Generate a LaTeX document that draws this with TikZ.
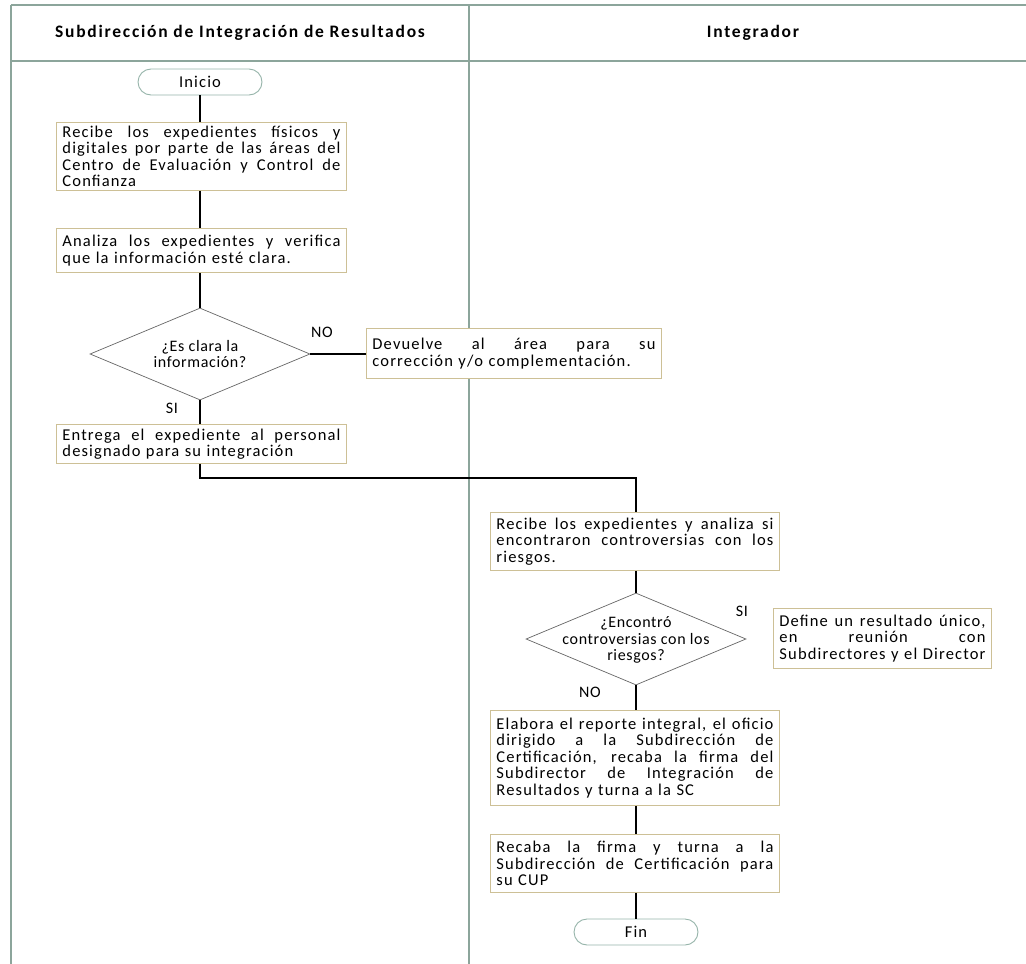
\documentclass[tikz,border=0pt]{standalone}
\usepackage{fontspec}
\setmainfont{Carlito}
\newfontfamily\hfont[LetterSpace=10]{Carlito}
\newfontfamily\bfont[LetterSpace=7]{Carlito}
\newfontfamily\dfont[LetterSpace=4]{Carlito}
\usetikzlibrary{shapes.geometric}
\definecolor{lanec}{RGB}{140,165,155}
\definecolor{boxc}{RGB}{205,192,150}
\definecolor{termc}{RGB}{150,180,170}
\newcommand\jl[1]{{\spaceskip=.25em plus 1fil\xspaceskip=.25em plus 1fil\makebox[\hsize][s]{#1}}}
\tikzset{
  procbox/.style={draw=boxc, line width=0.9pt, fill=white, anchor=north west,
    text width=#1, inner xsep=6pt, inner ysep=1pt, align=left,
    font=\bfont\fontsize{16.5}{16.5}\selectfont},
  term/.style={draw=termc, line width=0.9pt, rounded corners=13pt, fill=white,
    minimum width=124pt, minimum height=26pt, inner sep=0pt, font=\bfont\fontsize{16.5}{17}\selectfont},
  decision/.style={draw=black!60, line width=0.7pt, diamond, aspect=2.39, fill=white,
    minimum width=220pt, minimum height=92pt, inner sep=0pt},
  dtext/.style={align=center, inner sep=0pt, font=\dfont\fontsize{16}{16.5}\selectfont},
  lbl/.style={font=\dfont\fontsize{16}{16}\selectfont, inner sep=0pt},
  hdr/.style={font=\hfont\bfseries\fontsize{17.5}{18}\selectfont, inner sep=0pt},
  conn/.style={draw=black, line width=1.5pt},
  lane/.style={draw=lanec, line width=1.1pt}
}
\begin{document}
\begin{tikzpicture}[x=1pt,y=-1pt]
\useasboundingbox (0,0) rectangle (1026,964);
% lanes
\draw[lane] (11,5) -- (1026,5);
\draw[lane] (11,61) -- (1026,61);
\draw[lane] (11,5) -- (11,964);
\draw[lane] (469,5) -- (469,964);
\node[hdr] (h1) at (240,33) {Subdirección de Integración de Resultados};
\node[hdr] (h2) at (753,33) {Integrador};

% left lane
\node[term] (inicio) at (200,82) {Inicio};
\node[procbox=278pt, minimum height=68pt] (b1) at (56,122)
 {\jl{Recibe los expedientes físicos y}\\\jl{digitales por parte de las áreas del}\\\jl{Centro de Evaluación y Control de}\\Confianza};
\node[procbox=278pt, minimum height=44pt] (b2) at (56,228)
 {\jl{Analiza los expedientes y verifica}\\que la información esté clara.};
\node[decision] (d1) at (200,354) {};
\node[dtext] (d1t) at (200,354) {¿Es clara la\\información?};
\node[procbox=283pt, minimum height=50pt] (dev) at (366,328)
 {\jl{Devuelve al área para su}\\corrección y/o complementación.};
\node[procbox=278pt, minimum height=39pt] (b3) at (56,424)
 {\jl{Entrega el expediente al personal}\\designado para su integración};
\node[lbl] (no1) at (322,332) {NO};
\node[lbl] (si1) at (172,408) {SI};

% right lane
\node[procbox=277pt, minimum height=58pt] (b4) at (490,512)
 {\jl{Recibe los expedientes y analiza si}\\\jl{encontraron controversias con los}\\riesgos.};
\node[decision] (d2) at (636,639) {};
\node[dtext] (d2t) at (636,640) {¿Encontró\\controversias con los\\riesgos?};
\node[procbox=206pt, minimum height=60pt] (def) at (773,608)
 {\jl{Define un resultado único,}\\\jl{en reunión con}\\\jl{Subdirectores y el Director}};
\node[lbl] (si2) at (742,611) {SI};
\node[lbl] (no2) at (590,692) {NO};
\node[procbox=277pt, minimum height=95pt] (b5) at (490,710)
 {\jl{Elabora el reporte integral, el oficio}\\\jl{dirigido a la Subdirección de}\\\jl{Certificación, recaba la firma del}\\\jl{Subdirector de Integración de}\\Resultados y turna a la SC};
\node[procbox=277pt, minimum height=58pt] (b6) at (490,834)
 {\jl{Recaba la firma y turna a la}\\\jl{Subdirección de Certificación para}\\su CUP};
\node[term] (fin) at (636,932) {Fin};

% connectors
\coordinate (bend1) at (200,478);
\coordinate (bend2) at (636,478);
\draw[conn] (inicio) -- (inicio.south |- b1.north);
\draw[conn] (inicio.south |- b1.south) -- (inicio.south |- b2.north);
\draw[conn] (inicio.south |- b2.south) -- (d1.north);
\draw[conn] (d1.east) -- (dev.west |- d1.east);
\draw[conn] (d1.south) -- (d1.south |- b3.north);
\draw[conn] (d1.south |- b3.south) -- (bend1) -- (bend2) -- (bend2 |- b4.north);
\draw[conn] (d2.north |- b4.south) -- (d2.north);
\draw[conn] (d2.south) -- (d2.south |- b5.north);
\draw[conn] (d2.south |- b5.south) -- (d2.south |- b6.north);
\draw[conn] (d2.south |- b6.south) -- (fin.north);
\end{tikzpicture}
\end{document}
